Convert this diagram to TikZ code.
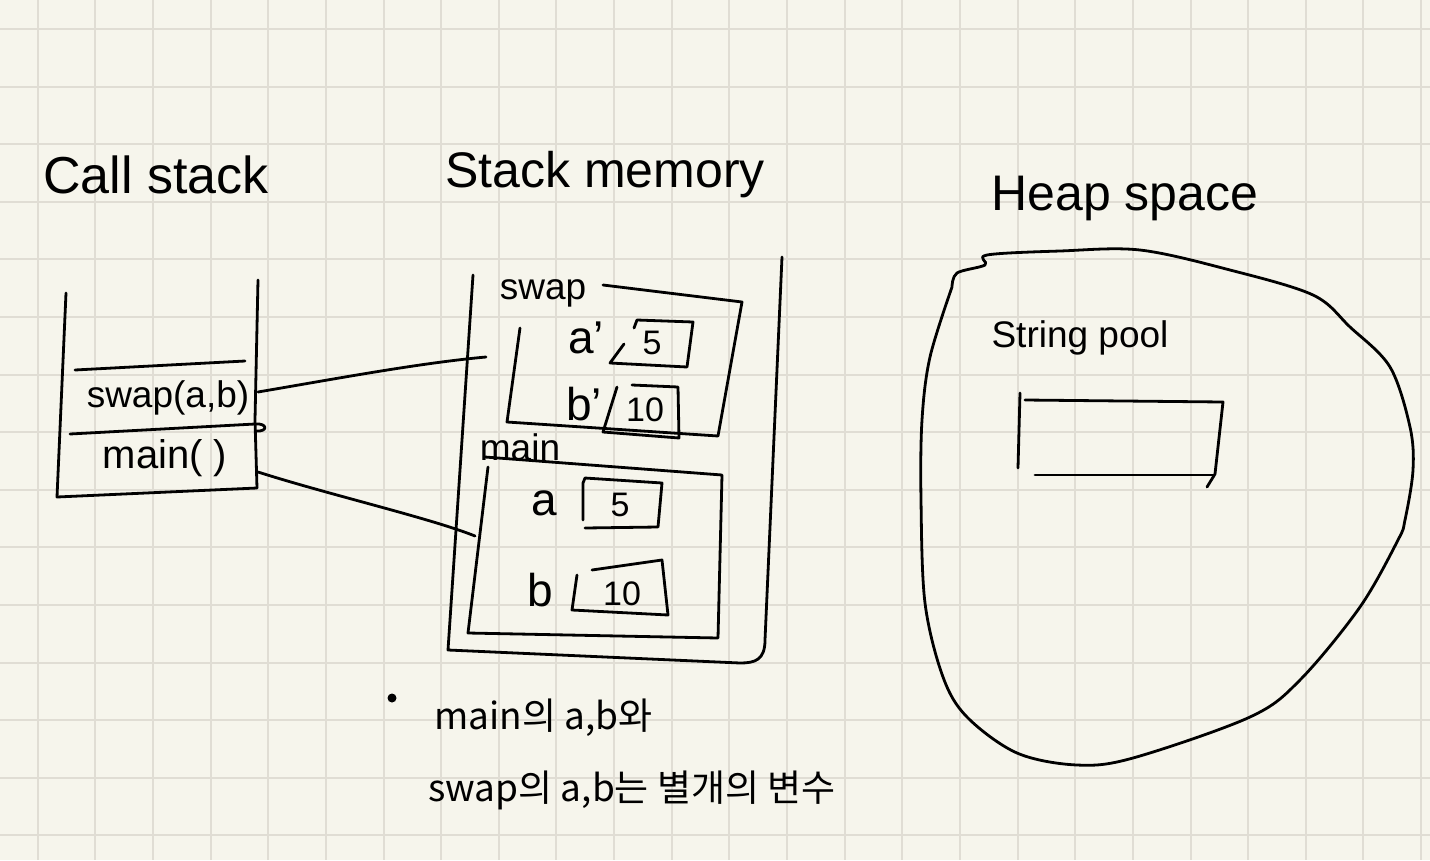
\documentclass[tikz,border=0pt]{standalone}
\usepackage{fontspec}
\setmainfont{Liberation Sans}
\newfontfamily\krfont{Noto Sans CJK KR}
\definecolor{paper}{HTML}{F6F5EC}
\definecolor{gridc}{HTML}{E0DDD4}
\begin{document}
\begin{tikzpicture}[x=1pt,y=-1pt,
  ink/.style={line width=2.8pt, line cap=round, line join=round, draw=black},
  gridline/.style={draw=gridc, line width=2pt},
  hd/.style={font=\fontsize{52}{58}\selectfont, inner sep=0pt},
  lbl/.style={font=\fontsize{37}{42}\selectfont, inner sep=0pt},
  var/.style={font=\fontsize{46}{50}\selectfont, inner sep=0pt},
  val/.style={font=\fontsize{34}{38}\selectfont, inner sep=0pt},
  note/.style={font=\krfont\fontsize{37}{42}\selectfont, inner sep=0pt, anchor=west}]
\useasboundingbox (0,0) rectangle (1430,860);
\fill[paper] (0,0) rectangle (1430,860);
\foreach \k in {0,...,24} \draw[gridline] ({37.7+57.64*\k},0) -- ({37.7+57.64*\k},860);
\foreach \k in {0,...,14} \draw[gridline] (0,{29+57.6*\k}) -- (1430,{29+57.6*\k});

% headings
\node[hd] (hcall) at (156,175) {Call stack};
\node[hd, font=\fontsize{50}{56}\selectfont] (hstack) at (605,175) {Stack memory};
\node[hd, font=\fontsize{50}{56}\selectfont] (hheap) at (1125,198) {Heap space};

% call stack
\draw[ink] (66,293) -- (57,497) -- (257,488);
\draw[ink] (258,280) -- (255,420) -- (257,488);
\draw[ink] (75,370) -- (245,361);
\draw[ink] (70,434) -- (255,424) .. controls (268,423) and (268,432) .. (256,431);
\node[lbl] (cswap) at (168,398) {swap(a,b)};
\node[lbl, font=\fontsize{40}{44}\selectfont] (cmain) at (165,458) {main( )};

% stack memory outer
\draw[ink] (782,257) -- (765,640) .. controls (765,660) and (755,663) .. (740,663) -- (448,650) -- (473,275);

% swap frame
\node[lbl] (lswap) at (543,293) {swap};
\draw[ink] (603,285) -- (742,302) -- (718,436) -- (507,422) -- (520,328);
\node[var] (la1) at (586,338) {a'};
\draw[ink] (624,344) -- (610,363) -- (687,367) -- (693,322) -- (637,320) -- (634,328);
\node[val] (v5a) at (652,343) {5};
\node[var] (lb1) at (584,404) {b'};
\draw[ink] (617,387) -- (603,432) -- (679,438) -- (678,387) -- (632,385);
\node[val] (v10a) at (645,410) {10};

% main frame
\node[lbl] (lmain) at (520,447) {main};
\draw[ink] (485,457) -- (722,475) -- (718,638) -- (468,633) -- (488,467);
\node[var] (la) at (544,503) {a};
\draw[ink] (583,520) -- (583,483) -- (585,478) -- (662,483) -- (658,527) -- (585,528);
\node[val] (v5b) at (620,505) {5};
\node[var] (lb) at (540,590) {b};
\draw[ink] (592,570) -- (662,560) -- (668,615) -- (572,610) -- (577,575);
\node[val] (v10b) at (622,594) {10};

% connectors
\coordinate (c1a) at (258,392);
\coordinate (c1b) at (486,357);
\coordinate (c2a) at (258,472);
\coordinate (c2b) at (475,536);
\draw[ink] (c1a) .. controls (340,378) and (420,363) .. (c1b);
\draw[ink] (c2a) .. controls (330,495) and (430,518) .. (c2b);

% heap
\draw[ink] plot[smooth, tension=0.55] coordinates {(952,287) (957,273) (985,265) (987,255) (1060,251) (1140,250) (1230,270) (1313,295) (1350,327) (1390,367) (1410,427) (1413,470) (1405,520) (1398,540) (1360,607) (1300,680) (1250,717) (1133,758) (1077,765) (1017,753) (967,717) (943,677) (925,603) (921,500) (922,420) (930,357) (952,287)};
\node[lbl] (lpool) at (1080,338) {String pool};
\draw[ink] (1020,393) -- (1018,468);
\draw[ink] (1025,400) -- (1223,402) -- (1215,474) -- (1207,487);
\draw[ink] (1035,475) -- (1213,475);

% note
\fill (392,698) circle (4.5);
\node[note] (n1) at (434,718) {main의 a,b와};
\node[note] (n2) at (428,790) {swap의 a,b는 별개의 변수};
\end{tikzpicture}
\end{document}
